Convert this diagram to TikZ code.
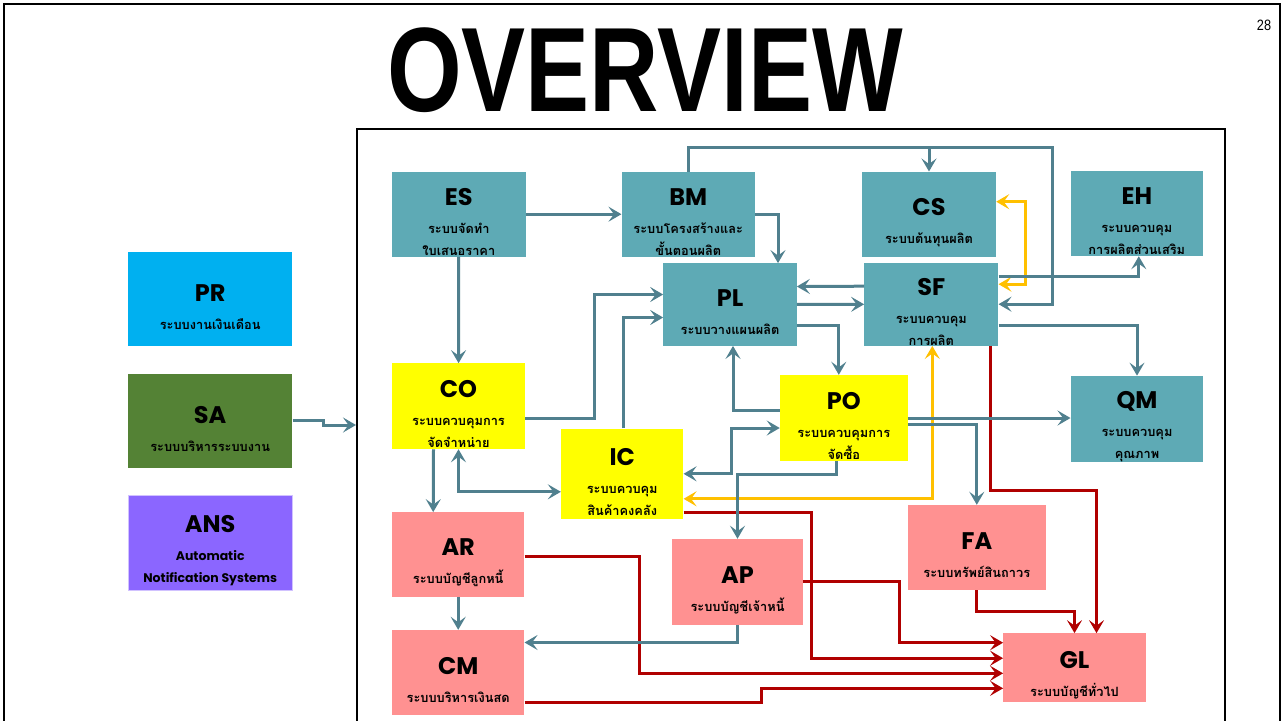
\documentclass[tikz,border=0pt]{standalone}
\usepackage{fontspec}
\setmainfont{Liberation Sans}
\newfontfamily\thaifnt[Script=Thai]{Loma}
\newfontfamily\codefnt{Poppins}
\usetikzlibrary{arrows.meta}

\definecolor{tealbox}{RGB}{94,170,181}
\definecolor{tealline}{RGB}{80,128,142}
\definecolor{pinkbox}{RGB}{255,145,145}
\definecolor{yellowbox}{RGB}{255,255,0}
\definecolor{redline}{RGB}{176,0,0}
\definecolor{goldline}{RGB}{255,192,0}
\definecolor{prblue}{RGB}{0,176,240}
\definecolor{sagreen}{RGB}{84,130,53}
\definecolor{anspurple}{RGB}{139,102,255}

% code line of a box
\newcommand{\hd}[1]{\rule{0pt}{33pt}{\codefnt\bfseries\fontsize{24}{24}\selectfont #1}\\[6pt]}

\begin{document}
\begin{tikzpicture}[x=1pt,y=-1pt,>={Stealth[length=13pt,width=15pt,inset=5.5pt]}]
\tikzstyle{sys}=[rectangle, inner sep=0pt, minimum width=133pt, minimum height=85pt, align=center, font=\thaifnt\bfseries\fontsize{12.8}{22}\selectfont]
\tikzstyle{side}=[sys, minimum width=164.3pt, minimum height=94.5pt]
\tikzstyle{flow}=[->, line width=3pt, draw=tealline]
\tikzstyle{cost}=[->, line width=3pt, draw=goldline]
\tikzstyle{acct}=[->, line width=3pt, draw=redline]

\useasboundingbox (0,0) rectangle (1284,720);
\fill[white] (0,0) rectangle (1284,720);

  % กรอบ
  \draw[line width=2pt] (4,4) rectangle (1280,760);
  \draw[line width=1.2pt] (357,129) rectangle (1225,760);
  \node (title) at (645,70) {\scalebox{0.8}[1]{\bfseries\fontsize{120}{120}\selectfont OVERVIEW}};
  \node (pageno) at (1264,25) {\scalebox{0.85}[1]{\fontsize{15}{15}\selectfont 28}};

  % ระบบด้านซ้าย
  \node[side, fill=prblue] (PR) at (210.2,299.2) {\hd{PR}ระบบงานเงินเดือน};
  \node[side, fill=sagreen] (SA) at (210.2,420.8) {\hd{SA}ระบบบริหารระบบงาน};
  \node[side, fill=anspurple, draw=anspurple!40!white, line width=1pt] (ANS) at (210.2,543)
    {\hd{ANS}{\codefnt\bfseries\fontsize{12.5}{22}\selectfont Automatic}\\{\codefnt\bfseries\fontsize{12.5}{22}\selectfont Notification Systems}};

  % ระบบหลัก
  \node[sys, fill=tealbox, minimum width=133.7pt] (ES) at (458.8,214.2) {\hd{ES}ระบบจัดทำ\\ใบเสนอราคา};
  \node[sys, fill=tealbox, minimum width=133.3pt] (BM) at (688.3,214.2) {\hd{BM}ระบบโครงสร้างและ\\ขั้นตอนผลิต};
  \node[sys, fill=tealbox, minimum width=134pt] (CS) at (929,214.2) {\hd{CS}ระบบต้นทุนผลิต};
  \node[sys, fill=tealbox, minimum width=132.3pt] (EH) at (1136.8,213.5) {\hd{EH}ระบบควบคุม\\การผลิตส่วนเสริม};
  \node[sys, fill=tealbox, minimum width=133.3pt, minimum height=82.4pt] (PL) at (730,304.5) {\hd{PL}ระบบวางแผนผลิต};
  \node[sys, fill=tealbox, minimum width=134pt, minimum height=80.3pt] (SF) at (931.3,304.2) {\hd{SF}ระบบควบคุม\\การผลิต};
  \node[sys, fill=yellowbox, minimum height=85.7pt] (CO) at (458.5,406.2) {\hd{CO}ระบบควบคุมการ\\จัดจำหน่าย};
  \node[sys, fill=yellowbox, minimum width=122.3pt, minimum height=90.3pt] (IC) at (622.2,473.8) {\hd{IC}ระบบควบคุม\\สินค้าคงคลัง};
  \node[sys, fill=yellowbox, minimum width=127.7pt, minimum height=86pt] (PO) at (843.8,418) {\hd{PO}ระบบควบคุมการ\\จัดซื้อ};
  \node[sys, fill=tealbox, minimum width=132.6pt, minimum height=85.4pt] (QM) at (1137,419) {\hd{QM}ระบบควบคุม\\คุณภาพ};
  \node[sys, fill=pinkbox, minimum width=132.3pt, minimum height=84.4pt] (AR) at (458.2,554.5) {\hd{AR}ระบบบัญชีลูกหนี้};
  \node[sys, fill=pinkbox, minimum width=132.3pt] (CM) at (458.2,672.5) {\hd{CM}ระบบบริหารเงินสด};
  \node[sys, fill=pinkbox, minimum width=130.4pt, minimum height=85.7pt] (AP) at (737.5,581.8) {\hd{AP}ระบบบัญชีเจ้าหนี้};
  \node[sys, fill=pinkbox, minimum width=138.3pt] (FA) at (976.8,547.5) {\hd{FA}ระบบทรัพย์สินถาวร};
  \node[sys, fill=pinkbox, minimum width=142.4pt, minimum height=68.7pt] (GL) at (1074.5,667.7) {\hd{GL}ระบบบัญชีทั่วไป};

  \coordinate (frameL) at (356,425);

  % ลูกศรบัญชี
  \draw[acct] ([xshift=59.5]SF.south) -- ++(0,145) -| ([xshift=22]GL.north);
  \draw[acct] (FA.south) -- ++(0,21) -| (GL.north);
  \draw[acct] (AP.east) -- ++(97,0) |- ([yshift=25]GL.west);
  \draw[acct] ([yshift=-38.5]IC.east) -- ++(128,0) |- ([yshift=9.5]GL.west);
  \draw[acct] ([yshift=-2]AR.east) -- ++(115,0) |- ([yshift=-5.6]GL.west);
  \draw[acct] ([yshift=-30]CM.east) -- ++(237.4,0) |- ([yshift=-20.6]GL.west);

  % ลูกศรต้นทุน
  \draw[cost, <->] ([yshift=12.5]CS.east) -- ++(29,0) |- ([yshift=20]SF.east);
  \draw[cost, <->] ([yshift=-25]IC.east) -| ([xshift=1]SF.south);

  % ลูกศรระบบ
  \path (ES) edge [flow] (BM)
        (ES) edge [flow] (CO)
        (PL) edge [flow] (SF)
        (AR) edge [flow] (CM)
        ([yshift=18]SF.west) edge [flow] ([yshift=18]PL.east)
        ([xshift=-25]CO.south) edge [flow] ([xshift=-25]AR.north)
        (PO.east) edge [flow] (PO.east -| QM.west);
  \draw[flow] (BM.north) |- (929,147) -- (CS.north);
  \draw[flow] (BM.north) |- (1052,147) |- (SF.east);
  \draw[flow] (BM.east) -| ([xshift=48]PL.north);
  \draw[flow] ([yshift=28]SF.east) -| ([xshift=2]EH.south);
  \draw[flow] ([yshift=-21]SF.east) -| (QM.north);
  \draw[flow] ([yshift=-21]PL.east) -| ([xshift=-5]PO.north);
  \draw[flow] ([yshift=8]PO.west) -| ([xshift=3]PL.south);
  \draw[flow] ([yshift=-12]CO.east) -- ++(69,0) |- ([yshift=10]PL.west);
  \draw[flow] ([xshift=1]IC.north) |- ([yshift=-13]PL.west);
  \draw[flow, <->] (CO.south) |- ([yshift=-18]IC.west);
  \draw[flow, <->] (IC.east) -- ++(48,0) |- ([yshift=-10]PO.west);
  \draw[flow] ([xshift=-7]PO.south) |- ([yshift=64]AP.north) -- (AP.north);
  \draw[flow] ([yshift=-6]PO.east) -| (FA.north);
  \draw[flow] (AP.south) |- ([yshift=30]CM.east);
  \draw[flow] (SA.east) -- ++(31,0) |- (frameL);

\end{tikzpicture}
\end{document}
